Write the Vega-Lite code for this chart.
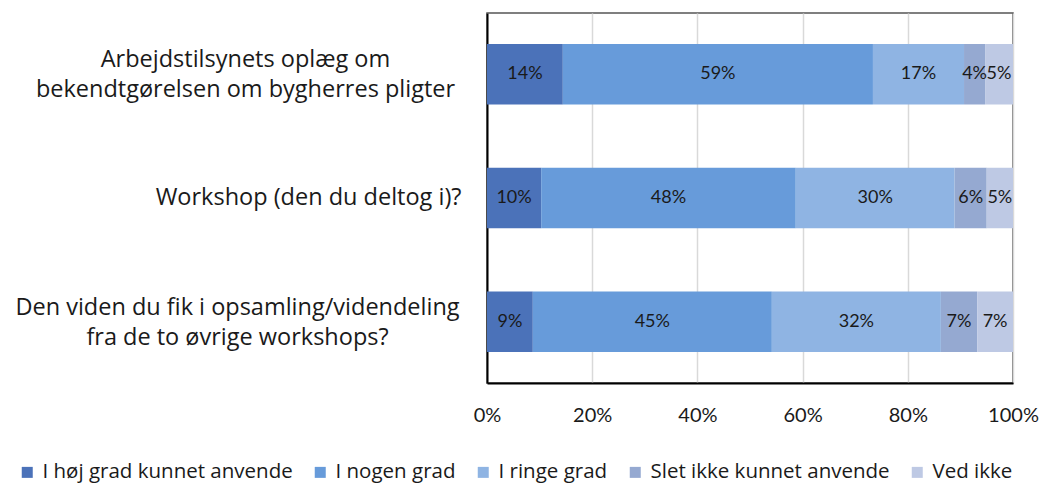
{
  "$schema": "https://vega.github.io/schema/vega-lite/v6.json",
  "width": 526,
  "height": 370,
  "autosize": "none",
  "padding": {"left": 487, "top": 13, "right": 30, "bottom": 101},
  "background": "white",
  "config": {
    "font": "Open Sans",
    "view": {"stroke": "#555", "strokeWidth": 1.5}
  },
  "data": {
    "values": [
      {"q": "Arbejdstilsynets oplæg om bekendtgørelsen om bygherres pligter", "s": "I høj grad kunnet anvende", "k": 1, "v": 0.144},
      {"q": "Arbejdstilsynets oplæg om bekendtgørelsen om bygherres pligter", "s": "I nogen grad", "k": 2, "v": 0.589},
      {"q": "Arbejdstilsynets oplæg om bekendtgørelsen om bygherres pligter", "s": "I ringe grad", "k": 3, "v": 0.173},
      {"q": "Arbejdstilsynets oplæg om bekendtgørelsen om bygherres pligter", "s": "Slet ikke kunnet anvende", "k": 4, "v": 0.040},
      {"q": "Arbejdstilsynets oplæg om bekendtgørelsen om bygherres pligter", "s": "Ved ikke", "k": 5, "v": 0.053},
      {"q": "Workshop (den du deltog i)?", "s": "I høj grad kunnet anvende", "k": 1, "v": 0.103},
      {"q": "Workshop (den du deltog i)?", "s": "I nogen grad", "k": 2, "v": 0.484},
      {"q": "Workshop (den du deltog i)?", "s": "I ringe grad", "k": 3, "v": 0.302},
      {"q": "Workshop (den du deltog i)?", "s": "Slet ikke kunnet anvende", "k": 4, "v": 0.061},
      {"q": "Workshop (den du deltog i)?", "s": "Ved ikke", "k": 5, "v": 0.050},
      {"q": "Den viden du fik i opsamling/videndeling fra de to øvrige workshops?", "s": "I høj grad kunnet anvende", "k": 1, "v": 0.087},
      {"q": "Den viden du fik i opsamling/videndeling fra de to øvrige workshops?", "s": "I nogen grad", "k": 2, "v": 0.454},
      {"q": "Den viden du fik i opsamling/videndeling fra de to øvrige workshops?", "s": "I ringe grad", "k": 3, "v": 0.321},
      {"q": "Den viden du fik i opsamling/videndeling fra de to øvrige workshops?", "s": "Slet ikke kunnet anvende", "k": 4, "v": 0.069},
      {"q": "Den viden du fik i opsamling/videndeling fra de to øvrige workshops?", "s": "Ved ikke", "k": 5, "v": 0.068}
    ]
  },
  "transform": [
    {"stack": "v", "groupby": ["q"], "sort": [{"field": "k", "order": "ascending"}], "offset": "normalize", "as": ["x0", "x1"]},
    {"calculate": "(datum.x0 + datum.x1) / 2", "as": "xm"}
  ],
  "encoding": {
    "y": {
      "field": "q",
      "type": "nominal",
      "sort": [
        "Arbejdstilsynets oplæg om bekendtgørelsen om bygherres pligter",
        "Workshop (den du deltog i)?",
        "Den viden du fik i opsamling/videndeling fra de to øvrige workshops?"
      ],
      "scale": {"paddingInner": 0.51, "paddingOuter": 0.25},
      "axis": {
        "title": null,
        "ticks": false,
        "domainColor": "#000",
        "domainWidth": 2,
        "labelFontSize": 23.5,
        "labelColor": "#1a1a1a",
        "labelLineHeight": 30,
        "labelLimit": 500,
        "labelBaseline": "middle",
        "labelAlign": {"condition": {"test": "datum.value == 'Workshop (den du deltog i)?'", "value": "right"}, "value": "center"},
        "labelPadding": {"condition": [
          {"test": "datum.value == 'Workshop (den du deltog i)?'", "value": 26},
          {"test": "datum.value == 'Arbejdstilsynets oplæg om bekendtgørelsen om bygherres pligter'", "value": 242}
        ], "value": 250},
        "labelOffset": {"condition": {"test": "datum.value == 'Workshop (den du deltog i)?'", "value": 0}, "value": -14},
        "labelExpr": "datum.value == 'Arbejdstilsynets oplæg om bekendtgørelsen om bygherres pligter' ? ['Arbejdstilsynets oplæg om', 'bekendtgørelsen om bygherres pligter'] : datum.value == 'Workshop (den du deltog i)?' ? datum.value : ['Den viden du fik i opsamling/videndeling', 'fra de to øvrige workshops?']"
      }
    }
  },
  "layer": [
    {
      "mark": {"type": "bar"},
      "encoding": {
        "x": {
          "field": "x0",
          "type": "quantitative",
          "scale": {"domain": [0, 1]},
          "axis": {
            "title": null,
            "format": ".0%",
            "values": [0, 0.2, 0.4, 0.6, 0.8, 1],
            "ticks": false,
            "domainColor": "#000",
            "domainWidth": 2,
            "gridColor": "#d9d9d9",
            "gridWidth": 1.5,
            "labelFont": "Lato",
            "labelFontSize": 20,
            "labelColor": "#1a1a1a",
            "labelPadding": 22,
            "labelFlush": false,
            "labelOverlap": false
          }
        },
        "x2": {"field": "x1"},
        "color": {
          "field": "s",
          "type": "nominal",
          "scale": {
            "domain": ["I høj grad kunnet anvende", "I nogen grad", "I ringe grad", "Slet ikke kunnet anvende", "Ved ikke"],
            "range": ["#4b72b9", "#679bda", "#8fb4e3", "#95a9d1", "#bec9e4"]
          },
          "legend": {
            "title": null,
            "orient": "none",
            "direction": "horizontal",
            "columns": 5,
            "legendX": -470,
            "legendY": 449,
            "symbolType": "square",
            "symbolSize": 121,
            "symbolStrokeWidth": 0,
            "labelFontSize": 20.5,
            "labelColor": "#1a1a1a",
            "labelOffset": 5,
            "columnPadding": 17,
            "labelLimit": 400
          }
        }
      }
    },
    {
      "mark": {"type": "text", "font": "Lato", "fontSize": 18, "color": "#1a1a1a", "baseline": "middle", "align": "center"},
      "encoding": {
        "x": {"field": "xm", "type": "quantitative"},
        "text": {"field": "v", "type": "quantitative", "format": ".0%"}
      }
    }
  ]
}
